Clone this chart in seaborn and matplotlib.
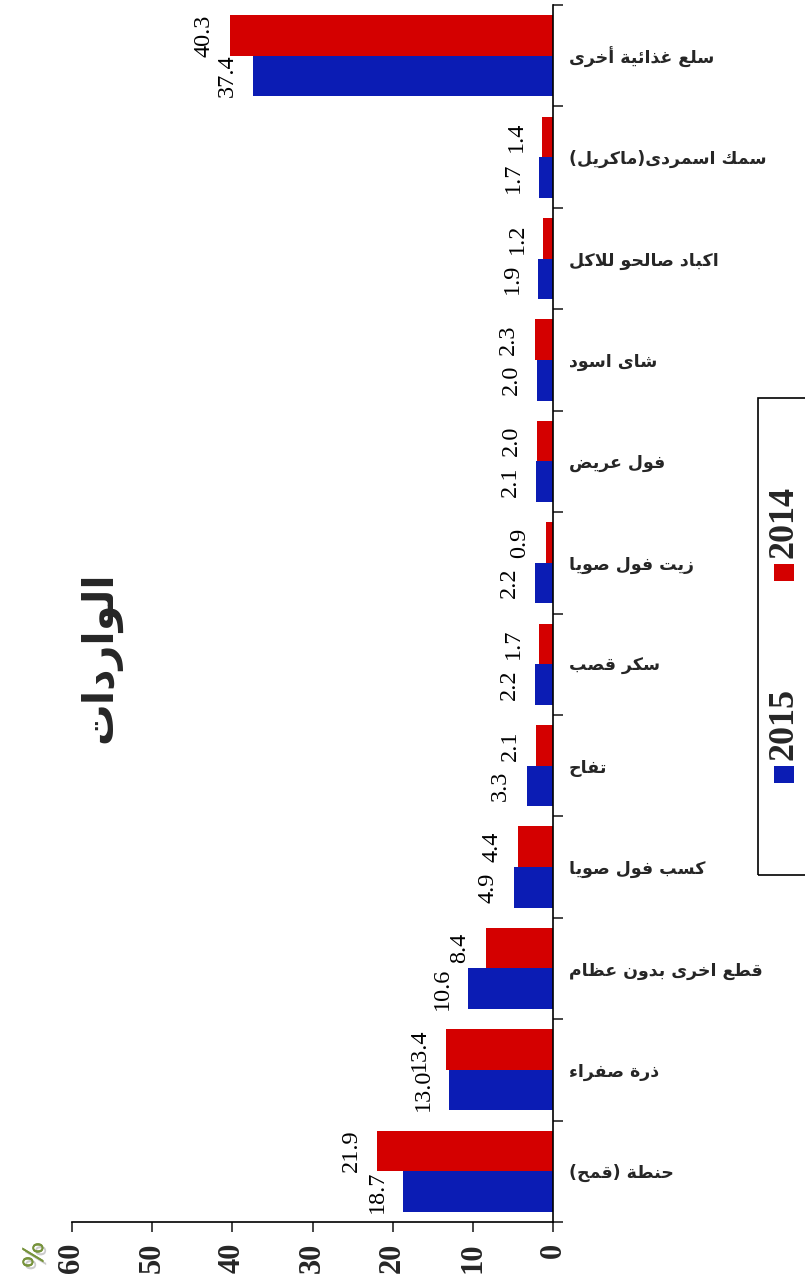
import numpy as np
import pandas as pd
import seaborn as sns
import matplotlib
matplotlib.use("Agg")
from matplotlib import pyplot as plt
from matplotlib.patches import Rectangle
import matplotlib.patheffects as pe

# DATA (top to bottom as in the chart)
categories = ["سلع غذائية أخرى", "سمك اسمردى(ماكريل)", "اكباد صالحو للاكل", "شاى اسود",
              "فول عريض", "زيت فول صويا", "سكر قصب", "تفاح", "كسب فول صويا",
              "قطع اخرى بدون عظام", "ذرة صفراء", "حنطة (قمح)"]
values_2014 = [40.3, 1.4, 1.2, 2.3, 2.0, 0.9, 1.7, 2.1, 4.4, 8.4, 13.4, 21.9]
values_2015 = [37.4, 1.7, 1.9, 2.0, 2.1, 2.2, 2.2, 3.3, 4.9, 10.6, 13.0, 18.7]
years = ["2014", "2015"]
legend_order = ["2015", "2014"]
x_ticks = [0, 10, 20, 30, 40, 50, 60]
title = "الواردات"
unit_label = "%"

colors = {"2014": "#D40000", "2015": "#0B1CB4"}

# matplotlib has no arabic shaping, so map letters to presentation forms
_dual = {'ئ': 0xFE89, 'ب': 0xFE8F, 'ت': 0xFE95, 'ث': 0xFE99, 'ج': 0xFE9D, 'ح': 0xFEA1,
         'خ': 0xFEA5, 'س': 0xFEB1, 'ش': 0xFEB5, 'ص': 0xFEB9, 'ض': 0xFEBD, 'ط': 0xFEC1,
         'ظ': 0xFEC5, 'ع': 0xFEC9, 'غ': 0xFECD, 'ف': 0xFED1, 'ق': 0xFED5, 'ك': 0xFED9,
         'ل': 0xFEDD, 'م': 0xFEE1, 'ن': 0xFEE5, 'ه': 0xFEE9, 'ي': 0xFEF1}
_right = {'آ': 0xFE81, 'أ': 0xFE83, 'ؤ': 0xFE85, 'إ': 0xFE87, 'ا': 0xFE8D, 'ة': 0xFE93,
          'د': 0xFEA9, 'ذ': 0xFEAB, 'ر': 0xFEAD, 'ز': 0xFEAF, 'و': 0xFEED, 'ى': 0xFEEF}
_lam_alef = {'آ': 0xFEF5, 'أ': 0xFEF7, 'إ': 0xFEF9, 'ا': 0xFEFB}


def shape_ar(text):
    glyphs = []
    prev_joins = False
    i = 0
    while i < len(text):
        c = text[i]
        nxt = text[i + 1] if i + 1 < len(text) else ''
        if c == 'ل' and nxt in _lam_alef:
            glyphs.append(chr(_lam_alef[nxt] + (1 if prev_joins else 0)))
            prev_joins = False
            i += 2
            continue
        if c in _dual or c in _right:
            base = _dual.get(c, _right.get(c))
            to_next = c in _dual and (nxt in _dual or nxt in _right)
            if prev_joins and to_next:
                off = 3
            elif prev_joins:
                off = 1
            elif to_next:
                off = 2
            else:
                off = 0
            glyphs.append(chr(base + off))
            prev_joins = to_next
        elif c == 'ء':
            glyphs.append(chr(0xFE80))
            prev_joins = False
        else:
            glyphs.append(c)
            prev_joins = False
        i += 1
    visual = ''.join(reversed(glyphs))
    return visual.translate(str.maketrans("()", ")("))


df = pd.DataFrame({
    "category": [shape_ar(c) for c in categories] * 2,
    "value": values_2014 + values_2015,
    "year": [years[0]] * len(categories) + [years[1]] * len(categories),
})

sns.set_style("white")
plt.rcParams['font.family'] = ['DejaVu Sans']

fig = plt.figure(figsize=(8.05, 12.81), dpi=100)
ax = fig.add_axes([72 / 805, 1 - 1222 / 1281, (553 - 72) / 805, (1222 - 5) / 1281])

sns.barplot(data=df, y="category", x="value", hue="year", hue_order=years,
            palette=colors, orient="h", width=0.8, saturation=1,
            edgecolor="none", legend=False, ax=ax)

ax.set_xlim(60, 0)
ax.set_ylim(len(categories) - 0.5, -0.5)
ax.set_xlabel("")
ax.set_ylabel("")

# value labels
for cont in ax.containers:
    ax.bar_label(cont, fmt="%.1f", padding=11, rotation=90,
                 fontsize=17.5, family="Liberation Serif", color="black")

# spines
for side in ["top", "left"]:
    ax.spines[side].set_visible(False)
for side in ["right", "bottom"]:
    ax.spines[side].set_color("black")
    ax.spines[side].set_linewidth(1.2)

# x axis
ax.set_xticks(x_ticks)
ax.set_xticklabels([str(t) for t in x_ticks], rotation=90, fontsize=22,
                   fontweight="bold", family="Liberation Serif")
ax.tick_params(axis="x", direction="out", length=7, width=1.2, pad=8, bottom=True)

# y axis on the right, separators as minor ticks
ax.yaxis.tick_right()
ax.set_yticks(np.arange(-0.5, len(categories), 1), minor=True)
ax.tick_params(axis="y", which="major", length=0, pad=11.5, right=True)
ax.tick_params(axis="y", which="minor", length=7, width=1.2, direction="out", right=True)
for lbl in ax.get_yticklabels():
    lbl.set_fontsize(12.5)
    lbl.set_fontweight("bold")
    lbl.set_family("DejaVu Sans")
    lbl.set_horizontalalignment("left")

# title and unit
fig.text(100 / 805, 1 - 657 / 1281, shape_ar(title), rotation=90, ha="center", va="center",
         fontsize=30, fontweight="bold", family="DejaVu Sans")
fig.text(35 / 805, 1 - 1255 / 1281, unit_label, rotation=90, ha="center", va="center",
         fontsize=20, color="#77933C",
         path_effects=[pe.withSimplePatchShadow(offset=(2, -2), shadow_rgbFace="#999999", alpha=0.5),
                       pe.Normal()])

# legend drawn by hand (rotated)
fig.add_artist(Rectangle((758 / 805, 1 - 875 / 1281), 0.08, (875 - 398) / 1281,
                         transform=fig.transFigure, fill=False, edgecolor="black", linewidth=1.2))
leg_pos = {"2015": 760, "2014": 558}
for yr in legend_order:
    y0 = leg_pos[yr]
    fig.add_artist(Rectangle((774 / 805, 1 - (y0 + 23) / 1281), 20 / 805, 17 / 1281,
                             transform=fig.transFigure, facecolor=colors[yr], edgecolor="none"))
    fig.text(784 / 805, 1 - y0 / 1281, yr, rotation=90, ha="center", va="bottom",
             fontsize=26, fontweight="bold", family="Liberation Serif")

fig.savefig("out.png", dpi=100)
